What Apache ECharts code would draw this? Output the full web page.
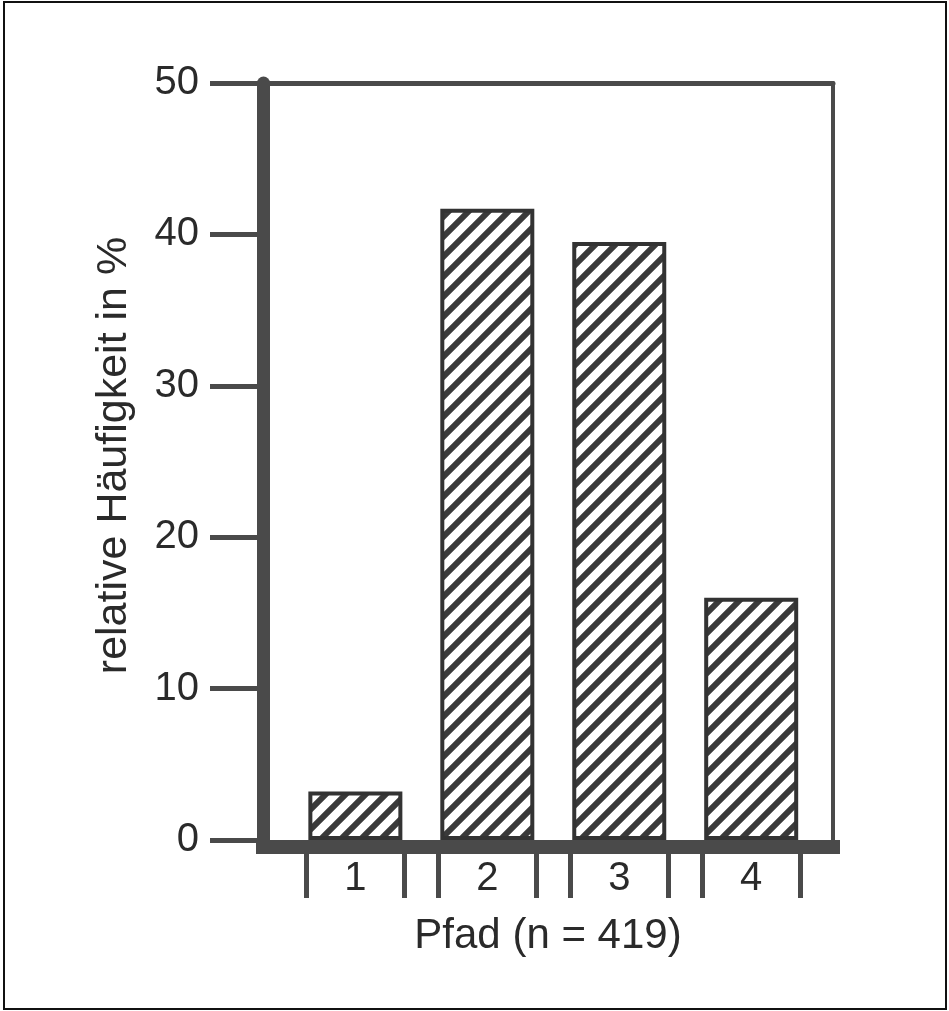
<!DOCTYPE html>
<html>
<head>
<meta charset="utf-8">
<script src="https://cdn.jsdelivr.net/npm/echarts@6/dist/echarts.min.js"></script>
<style>
html,body{margin:0;padding:0;background:#fff;}
#chart{width:949px;height:1011px;}
</style>
</head>
<body>
<div id="chart"></div>
<script>
// ---- data ----
var categories = [1, 2, 3, 4];
var categoryLabels = ['1', '2', '3', '4'];
var values = [3.2, 41.7, 39.5, 16.0];
var yTicks = [0, 10, 20, 30, 40, 50];
var xTitle = 'Pfad (n = 419)';
var yTitle = 'relative Häufigkeit in %';

var GREY = '#4a4a4a';
var TEXT = '#2a2a2a';
var FONT = '"Liberation Sans", Arial, Helvetica, sans-serif';
var HALF = 0.37; // half bar width in axis units, for the dividing ticks

// hatch pattern
var tile = document.createElement('canvas');
var S = 20;
tile.width = S; tile.height = S;
var c = tile.getContext('2d');
c.fillStyle = '#ffffff';
c.fillRect(0, 0, S, S);
c.strokeStyle = '#3a3a3a';
c.lineWidth = 6;
c.lineCap = 'square';
c.beginPath();
c.moveTo(-2, S + 2); c.lineTo(S + 2, -2);
c.moveTo(-S / 2 - 2, S / 2 + 2); c.lineTo(S / 2 + 2, -S / 2 - 2);
c.moveTo(S / 2 - 2, S * 1.5 + 2); c.lineTo(S * 1.5 + 2, S / 2 - 2);
c.stroke();

var dividerTicks = [];
categories.forEach(function (v) { dividerTicks.push(v - HALF, v + HALF); });

var chart = echarts.init(document.getElementById('chart'), null, {renderer: 'canvas'});
chart.setOption({
  animation: false,
  backgroundColor: '#ffffff',
  grid: {left: 263, right: 116, top: 83, bottom: 171, containLabel: false},
  xAxis: [{
    type: 'value', position: 'bottom', min: 0.3, max: 4.62,
    offset: 7,
    axisLine: {show: true, onZero: false, lineStyle: {color: GREY, width: 14, cap: 'square'}},
    axisTick: {show: true, customValues: dividerTicks, length: 51, lineStyle: {color: GREY, width: 5}},
    axisLabel: {show: true, customValues: categories, formatter: function (v) { return categoryLabels[categories.indexOf(v)] || ''; },
      color: TEXT, fontSize: 40, fontFamily: FONT, margin: 12},
    splitLine: {show: false},
    name: xTitle, nameLocation: 'middle', nameGap: 68,
    nameTextStyle: {color: TEXT, fontSize: 42, fontFamily: FONT}
  }, {
    type: 'value', position: 'top', min: 0.3, max: 4.62,
    axisLine: {show: true, onZero: false, lineStyle: {color: GREY, width: 5}},
    axisTick: {show: false}, axisLabel: {show: false}, splitLine: {show: false}
  }],
  yAxis: [{
    type: 'value', position: 'left', min: 0, max: 50, interval: 10,
    axisLine: {show: true, onZero: false, lineStyle: {color: GREY, width: 13}},
    axisTick: {show: true, length: 53, lineStyle: {color: GREY, width: 5}},
    axisLabel: {color: TEXT, fontSize: 40, fontFamily: FONT, margin: 64},
    splitLine: {show: false},
    name: yTitle, nameLocation: 'middle', nameGap: 127, nameRotate: 90,
    nameTextStyle: {color: TEXT, fontSize: 43, fontFamily: FONT, padding: [0, 0, 0, 12]}
  }, {
    type: 'value', position: 'right', min: 0, max: 50, interval: 10,
    axisLine: {show: true, onZero: false, lineStyle: {color: GREY, width: 4}},
    axisTick: {show: false}, axisLabel: {show: false}, splitLine: {show: false}
  }],
  graphic: [{
    type: 'rect', shape: {x: 4, y: 2, width: 942, height: 1007},
    style: {fill: 'none', stroke: '#111', lineWidth: 2}, z: 0
  }],
  series: [{
    type: 'bar',
    xAxisIndex: 0, yAxisIndex: 0,
    barWidth: 94,
    data: categories.map(function (v, i) { return [v, values[i]]; }),
    itemStyle: {color: {image: tile, repeat: 'repeat'}, borderColor: '#333', borderWidth: 4},
    z: 3
  }]
});
</script>
</body>
</html>
